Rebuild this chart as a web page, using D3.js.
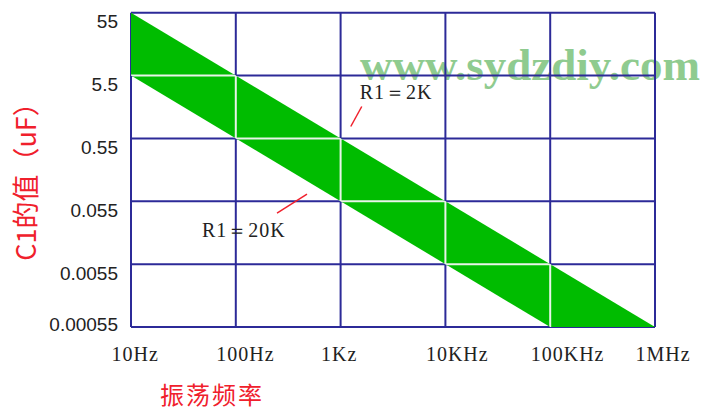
<!DOCTYPE html>
<html>
<head>
<meta charset="utf-8">
<script src="https://cdn.jsdelivr.net/npm/d3@7"></script>
<style>
  html, body { margin: 0; padding: 0; background: #fff; }
  svg { display: block; }
</style>
</head>
<body>
<svg id="chart" width="708" height="412"></svg>
<script>
// Ticks
const freqTicks = [10, 100, 1000, 10000, 100000, 1000000];
const freqLabels = ["10Hz", "100Hz", "1Kz", "10KHz", "100KHz", "1MHz"];
const capTicks = [55, 5.5, 0.55, 0.055, 0.0055, 0.00055];
const capLabels = ["55", "5.5", "0.55", "0.055", "0.0055", "0.00055"];

// Band edges (frequency in Hz, C1 in uF)
const freqR2k = [10, 1000000];
const capR2k = [55, 0.00055];
const freqR20k = [10, 100000];
const capR20k = [5.5, 0.00055];

// Annotations anchored on a line
const annoNames = ["R1＝2K", "R1＝20K"];
const annoFreq = [1250, 478];

const width = 708;
const height = 412;
const margin = { top: 12.7, right: 53, bottom: 85, left: 131 };

const x = d3.scaleLog()
  .domain([10, 1000000])
  .range([margin.left, width - margin.right]);

const y = d3.scaleLog()
  .domain([0.00055, 55])
  .range([height - margin.bottom, margin.top]);

const svg = d3.select("#chart");

const gridColor = "#2c2a98";
const red = "#f0202c";

// watermark
svg.append("text")
  .attr("x", 360)
  .attr("y", 80)
  .attr("textLength", 340)
  .attr("lengthAdjust", "spacingAndGlyphs")
  .style("font-family", "'Liberation Serif', serif")
  .style("font-weight", "bold")
  .style("font-size", "45px")
  .style("fill", "#8fcb8f")
  .text("www.sydzdiy.com");

// grid
const grid = svg.append("g");
grid.selectAll(".vx")
  .data(freqTicks)
  .enter()
  .append("line")
  .attr("x1", d => x(d))
  .attr("x2", d => x(d))
  .attr("y1", y.range()[1])
  .attr("y2", y.range()[0])
  .attr("stroke", gridColor)
  .attr("stroke-width", 2);

grid.selectAll(".hy")
  .data(capTicks)
  .enter()
  .append("line")
  .attr("y1", d => y(d))
  .attr("y2", d => y(d))
  .attr("x1", x.range()[0])
  .attr("x2", x.range()[1])
  .attr("stroke", gridColor)
  .attr("stroke-width", 2);

// band between the two lines
const upper = freqR2k.map((f, i) => [x(f), y(capR2k[i])]);
const lower = freqR20k.map((f, i) => [x(f), y(capR20k[i])]);
const band = upper.concat(lower.reverse());

svg.append("clipPath")
  .attr("id", "bandClip")
  .append("polygon")
  .attr("points", band.map(p => p.join(",")).join(" "));

svg.append("polygon")
  .attr("points", band.map(p => p.join(",")).join(" "))
  .attr("fill", "#00bc00");

// inner grid lines show white over the band
const inner = svg.append("g").attr("clip-path", "url(#bandClip)");
inner.selectAll(".vx")
  .data(freqTicks.slice(1, -1))
  .enter()
  .append("line")
  .attr("x1", d => x(d))
  .attr("x2", d => x(d))
  .attr("y1", y.range()[1])
  .attr("y2", y.range()[0])
  .attr("stroke", "#e8f4e8")
  .attr("stroke-width", 2);
inner.selectAll(".hy")
  .data(capTicks.slice(1, -1))
  .enter()
  .append("line")
  .attr("y1", d => y(d))
  .attr("y2", d => y(d))
  .attr("x1", x.range()[0])
  .attr("x2", x.range()[1])
  .attr("stroke", "#e8f4e8")
  .attr("stroke-width", 2);

// x axis labels
const xAxis = d3.axisBottom(x)
  .tickValues(freqTicks)
  .tickFormat((d, i) => freqLabels[i])
  .tickSize(0);

const xg = svg.append("g")
  .attr("transform", `translate(0, ${height - margin.bottom})`)
  .call(xAxis);
xg.select(".domain").remove();
xg.selectAll("text")
  .attr("text-anchor", "start")
  .attr("x", -20)
  .attr("y", 34)
  .attr("dy", 0)
  .style("font-family", "'Liberation Serif', serif")
  .style("font-size", "20px")
  .style("letter-spacing", "1px")
  .style("fill", "#222");

// y axis labels
const yAxis = d3.axisLeft(y)
  .tickValues(capTicks)
  .tickFormat((d, i) => capLabels[i])
  .tickSize(0);

const yg = svg.append("g")
  .attr("transform", `translate(${margin.left}, 0)`)
  .call(yAxis);
yg.select(".domain").remove();
yg.selectAll("text")
  .attr("x", -13)
  .attr("dy", 0)
  .attr("y", d => (d === capTicks[capTicks.length - 1] ? 3 : 15))
  .style("font-family", "'Liberation Sans', sans-serif")
  .style("font-size", "19px")
  .style("fill", "#222");

// axis titles
svg.append("text")
  .attr("transform", `translate(36, 175) rotate(-90)`)
  .attr("text-anchor", "middle")
  .style("font-family", "'Noto Sans CJK SC', sans-serif")
  .style("font-size", "27px")
  .style("fill", red)
  .text("C1的值（uF）");

svg.append("text")
  .attr("x", 160)
  .attr("y", 404)
  .style("font-family", "'Noto Sans CJK SC', sans-serif")
  .style("font-size", "24px")
  .style("letter-spacing", "2px")
  .style("fill", red)
  .text("振荡频率");

// annotations
const lineCap = [
  f => capR2k[0] * freqR2k[0] / f,
  f => capR20k[0] * freqR20k[0] / f
];
const pointer = [
  { x1: 0, y1: -18, x2: 11, y2: -38, tx: 9, ty: -46 },
  { x1: 0, y1: 13, x2: -30, y2: 32, tx: -105, ty: 56 }
];

annoNames.forEach((name, i) => {
  const px = x(annoFreq[i]);
  const py = y(lineCap[i](annoFreq[i]));
  const p = pointer[i];
  svg.append("line")
    .attr("x1", px + p.x1)
    .attr("y1", py + p.y1)
    .attr("x2", px + p.x2)
    .attr("y2", py + p.y2)
    .attr("stroke", red)
    .attr("stroke-width", 1.5);
  svg.append("text")
    .attr("x", px + p.tx)
    .attr("y", py + p.ty)
    .style("font-family", "'Liberation Serif', serif")
    .style("font-size", "20px")
    .style("letter-spacing", "1px")
    .style("fill", "#222")
    .text(name);
});
</script>
</body>
</html>
